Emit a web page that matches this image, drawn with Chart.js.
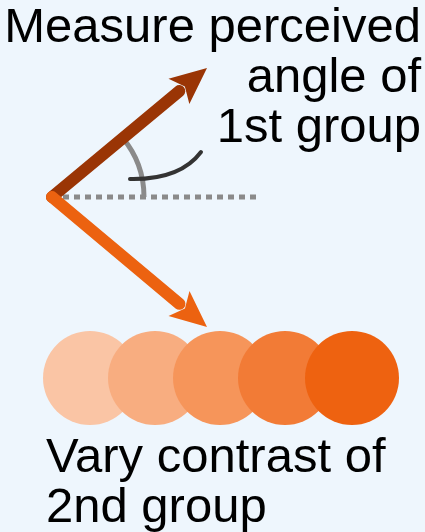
<!DOCTYPE html>
<html>
<head>
<meta charset="utf-8">
<script src="https://cdn.jsdelivr.net/npm/chart.js@4"></script>
<style>
  html, body { margin: 0; padding: 0; background: #eef6fd; }
  #wrap { width: 425px; height: 532px; }
</style>
</head>
<body>
<div id="wrap"><canvas id="myChart"></canvas></div>
<script>
// diagram points, in a 425 x 532 coordinate space (y down)
const vertex = { x: 52, y: 197 };
const arrowTips = [{ x: 207, y: 68 }, { x: 207, y: 327 }];
const arrowColors = ["#9a3505", "#ec6210"];
const circleX = [90, 155, 220, 285, 352];
const circleY = 378;
const circleColors = ["#fac5a5", "#f8ad80", "#f6955a", "#f27b36", "#ee6210"];
const topLabel = ["Measure perceived", "angle of", "1st group"];
const bottomLabel = ["Vary contrast of", "2nd group"];

const headLen = 40;

// shaft ends a bit before the tip so the head covers it
const shaftEnd = (tip) => {
  const dx = tip.x - vertex.x, dy = tip.y - vertex.y;
  const len = Math.hypot(dx, dy);
  return { x: tip.x - dx / len * (headLen - 4), y: tip.y - dy / len * (headLen - 4) };
};

const extras = {
  id: "extras",
  beforeDatasetsDraw(chart) {
    const { ctx, scales } = chart;
    const px = (v) => scales.x.getPixelForValue(v);
    const py = (v) => scales.y.getPixelForValue(v);
    const cx = px(vertex.x), cy = py(vertex.y);
    ctx.save();
    // gray angle arc
    const r = px(vertex.x + 92) - cx;
    ctx.strokeStyle = "#8a8a8a";
    ctx.lineWidth = 5;
    ctx.beginPath();
    ctx.arc(cx, cy, r, -0.70, 0);
    ctx.stroke();
    // black pointer curve
    ctx.strokeStyle = "#333333";
    ctx.lineWidth = 4;
    ctx.lineCap = "round";
    ctx.beginPath();
    ctx.moveTo(px(130), py(179));
    ctx.quadraticCurveTo(px(180), py(180), px(201), py(152));
    ctx.stroke();
    ctx.restore();
  },
  afterDatasetsDraw(chart) {
    const { ctx, scales } = chart;
    const px = (v) => scales.x.getPixelForValue(v);
    const py = (v) => scales.y.getPixelForValue(v);
    ctx.save();
    arrowTips.forEach((tip, i) => {
      const tx = px(tip.x), ty = py(tip.y);
      const ang = Math.atan2(ty - py(vertex.y), tx - px(vertex.x));
      ctx.fillStyle = arrowColors[i];
      ctx.beginPath();
      ctx.moveTo(tx, ty);
      ctx.lineTo(tx - headLen * Math.cos(ang - 0.42), ty - headLen * Math.sin(ang - 0.42));
      ctx.lineTo(tx - headLen * 0.72 * Math.cos(ang), ty - headLen * 0.72 * Math.sin(ang));
      ctx.lineTo(tx - headLen * Math.cos(ang + 0.42), ty - headLen * Math.sin(ang + 0.42));
      ctx.closePath();
      ctx.fill();
    });
    ctx.fillStyle = "#000000";
    ctx.font = "49px 'Liberation Sans', Arial, sans-serif";
    ctx.textBaseline = "alphabetic";
    ctx.textAlign = "right";
    topLabel.forEach((t, i) => ctx.fillText(t, px(421), py(42 + i * 50)));
    ctx.textAlign = "left";
    bottomLabel.forEach((t, i) => ctx.fillText(t, px(46), py(472 + i * 50)));
    ctx.restore();
  }
};

const arrowSets = arrowTips.map((tip, i) => ({
  type: "line",
  data: [vertex, shaftEnd(tip)],
  borderColor: arrowColors[i],
  borderWidth: 12,
  borderCapStyle: "round",
  pointRadius: 0,
  order: 2 - i
}));

new Chart(document.getElementById("myChart"), {
  type: "scatter",
  data: {
    datasets: [
      {
        type: "line",
        data: [vertex, { x: 258, y: vertex.y }],
        borderColor: "#8a8a8a",
        borderWidth: 5,
        borderDash: [6, 5],
        pointRadius: 0,
        order: 5
      },
      ...arrowSets,
      {
        data: circleX.map((x) => ({ x: x, y: circleY })),
        pointRadius: 47,
        pointHoverRadius: 47,
        backgroundColor: circleColors,
        borderWidth: 0,
        order: 3
      }
    ]
  },
  options: {
    responsive: true,
    maintainAspectRatio: false,
    animation: false,
    layout: { padding: 0, autoPadding: false },
    plugins: { legend: { display: false }, tooltip: { enabled: false } },
    scales: {
      x: { type: "linear", min: 0, max: 425, display: false },
      y: { type: "linear", min: 0, max: 532, reverse: true, display: false }
    }
  },
  plugins: [extras]
});
</script>
</body>
</html>
